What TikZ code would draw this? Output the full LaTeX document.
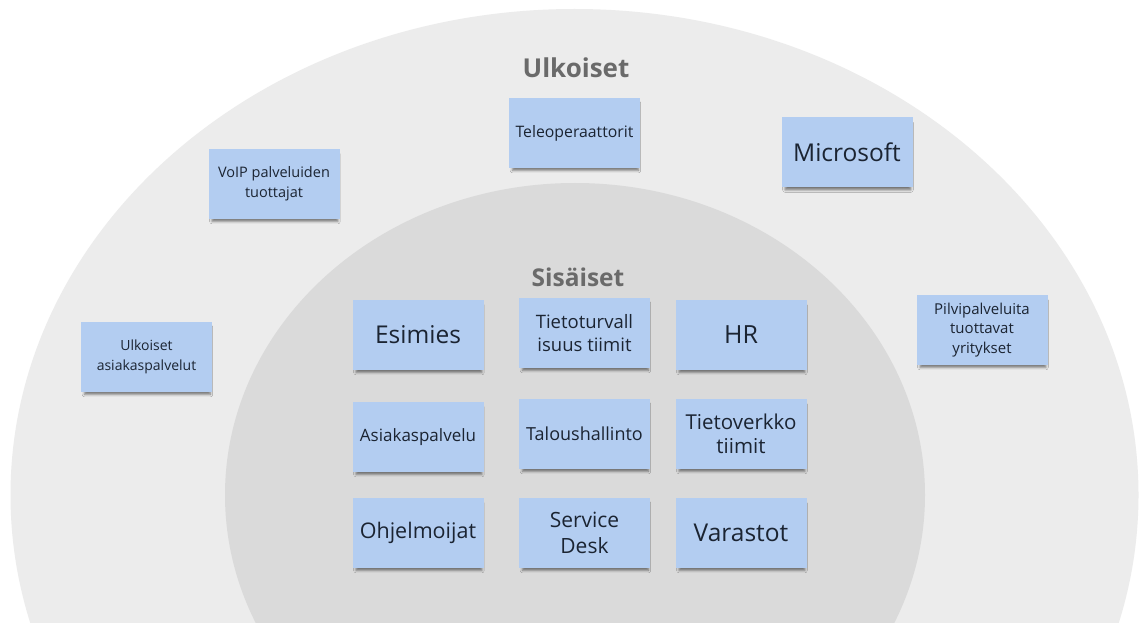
\documentclass[tikz,border=0pt]{standalone}
\usepackage{fontspec}
\setmainfont{Open Sans}
\usepackage{xcolor}
\usetikzlibrary{shadows.blur}

\definecolor{outergray}{HTML}{ECECEC}
\definecolor{innergray}{HTML}{DADADA}
\definecolor{stickyblue}{HTML}{B3CDF1}
\definecolor{stickytext}{HTML}{1B2432}
\definecolor{headgray}{HTML}{6A6A6A}

\newcommand{\fsz}[2]{\fontsize{#1}{#2}\selectfont}

\begin{document}
\begin{tikzpicture}[x=1pt,y=-1pt,
    note/.style={fill=stickyblue, minimum width=131pt, minimum height=70pt,
        inner sep=2pt, align=center, text=stickytext, font=\fsz{14.5}{20},
        blur shadow={shadow xshift=1pt, shadow yshift=-4pt, shadow scale=0.96,
            shadow opacity=50, shadow blur radius=2.5pt}},
    heading/.style={text=headgray, font=\bfseries\fsz{25}{30}}]
    \useasboundingbox (0,0) rectangle (1141,623);
    \clip (0,0) rectangle (1141,623);

    % Circles
    \fill[white] (0,0) rectangle (1141,623);
    \fill[outergray] (574.5,495) ellipse [x radius=564, y radius=486];
    \fill[innergray] (575,495) ellipse [x radius=350, y radius=312];

    % Ulkoiset
    \node[heading, font=\bfseries\fsz{26}{30}] (ulkoiset) at (576,68) {Ulkoiset};
    \node[note, font=\fsz{15.8}{20}] (teleop) at (574.5,133) {Teleoperaattorit};
    \node[note] (voip) at (274,184) {VoIP palveluiden\\tuottajat};
    \node[note, font=\fsz{24.5}{29}] (microsoft) at (847,152.5) {Microsoft};
    \node[note, font=\fsz{14}{19.5}] (ulkasiakas) at (146.5,357) {Ulkoiset\\asiakaspalvelut};
    \node[note, font=\fsz{15}{19.5}] (pilvi) at (982,330) {Pilvipalveluita\\tuottavat\\yritykset};

    % Sisaiset
    \node[heading, font=\bfseries\fsz{24.5}{30}] (sisaiset) at (578,277) {Sisäiset};
    \node[note, font=\fsz{24.5}{29}] (esimies) at (418,335) {Esimies};
    \node[note, font=\fsz{18.5}{23}] (tietoturva) at (584.5,333) {Tietoturvall\\isuus tiimit};
    \node[note, font=\fsz{25}{29}] (hr) at (741,335) {HR};
    \node[note, font=\fsz{17}{21}] (asiakas) at (418,437) {Asiakaspalvelu};
    \node[note, font=\fsz{18}{21}] (talous) at (584.5,434) {Taloushallinto};
    \node[note, font=\fsz{20.5}{24}] (tietoverkko) at (741,434) {Tietoverkko\\tiimit};
    \node[note, font=\fsz{21.5}{26}] (ohjelmoijat) at (418,533) {Ohjelmoijat};
    \node[note, font=\fsz{21}{26}] (servicedesk) at (584.5,533) {Service\\Desk};
    \node[note, font=\fsz{24.5}{29}] (varastot) at (741,533) {Varastot};
\end{tikzpicture}
\end{document}
